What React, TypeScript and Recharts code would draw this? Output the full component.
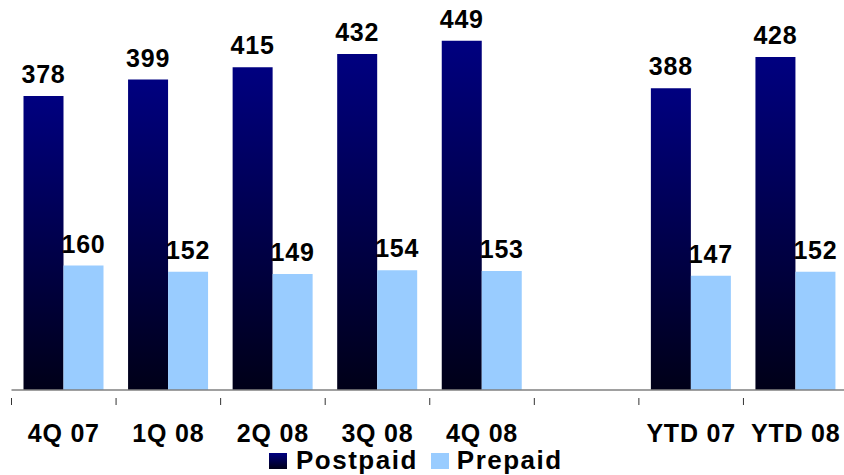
import React from 'react';
import { BarChart, Bar, XAxis, YAxis, LabelList } from 'recharts';

const categories = ['4Q 07', '1Q 08', '2Q 08', '3Q 08', '4Q 08', '', 'YTD 07', 'YTD 08'];
const postpaid = [378, 399, 415, 432, 449, null, 388, 428];
const prepaid = [160, 152, 149, 154, 153, null, 147, 152];

const data = categories.map((name, i) => ({
  name,
  postpaid: postpaid[i],
  prepaid: prepaid[i],
}));

const FONT = '"Liberation Sans", Arial, Helvetica, sans-serif';
const CHART_W = 848;
const LEFT = 11.5;
const BAND = (CHART_W - LEFT) / categories.length;

const CategoryTick = (props: any) => {
  const { x, y, payload } = props;
  const bx = x - BAND / 2;
  return (
    <g>
      <line x1={bx} y1={y} x2={bx} y2={y + 7} stroke="#333" strokeWidth={1} />
      <text
        x={x}
        y={y + 44}
        textAnchor="middle"
        fontFamily={FONT}
        fontWeight="bold"
        fontSize={25}
        letterSpacing={0.8}
        fill="#000"
      >
        {payload.value}
      </text>
    </g>
  );
};

const labelStyle = {
  fontFamily: FONT,
  fontWeight: 'bold' as const,
  fontSize: 25,
  letterSpacing: 0.8,
  fill: '#000',
};

export default function App() {
  return (
    <div style={{ position: 'absolute', left: 0, top: 0, width: 844, height: 475, overflow: 'hidden', background: '#fff' }}>
      <BarChart
        width={CHART_W}
        height={475}
        data={data}
        margin={{ top: 1, right: 0, left: LEFT, bottom: 0 }}
        barGap={0}
      >
        <defs>
          <linearGradient id="postGrad" x1="0" y1="0" x2="0" y2="1">
            <stop offset="0%" stopColor="#000080" />
            <stop offset="100%" stopColor="#000018" />
          </linearGradient>
        </defs>
        <YAxis hide domain={[0, 500]} />
        <XAxis
          dataKey="name"
          height={85}
          axisLine={{ stroke: '#808080', strokeWidth: 1.5 }}
          tickLine={false}
          interval={0}
          tick={<CategoryTick />}
        />
        <Bar dataKey="postpaid" fill="url(#postGrad)" barSize={40} isAnimationActive={false}>
          <LabelList dataKey="postpaid" position="top" offset={13} style={labelStyle} />
        </Bar>
        <Bar dataKey="prepaid" fill="#99CCFF" barSize={40} isAnimationActive={false}>
          <LabelList dataKey="prepaid" position="top" offset={13} style={labelStyle} />
        </Bar>
      </BarChart>
      <div
        style={{
          position: 'absolute',
          top: 447,
          left: 269,
          display: 'flex',
          alignItems: 'center',
          fontFamily: FONT,
          fontWeight: 'bold',
          fontSize: 26,
          letterSpacing: 1.5,
          color: '#000',
          whiteSpace: 'nowrap',
          lineHeight: '27px',
        }}
      >
        <span style={{ width: 18, height: 16, background: 'linear-gradient(#000080, #000018)', display: 'inline-block' }} />
        <span style={{ marginLeft: 9 }}>Postpaid</span>
        <span style={{ width: 18, height: 16, background: '#99CCFF', display: 'inline-block', marginLeft: 13 }} />
        <span style={{ marginLeft: 8 }}>Prepaid</span>
      </div>
    </div>
  );
}
